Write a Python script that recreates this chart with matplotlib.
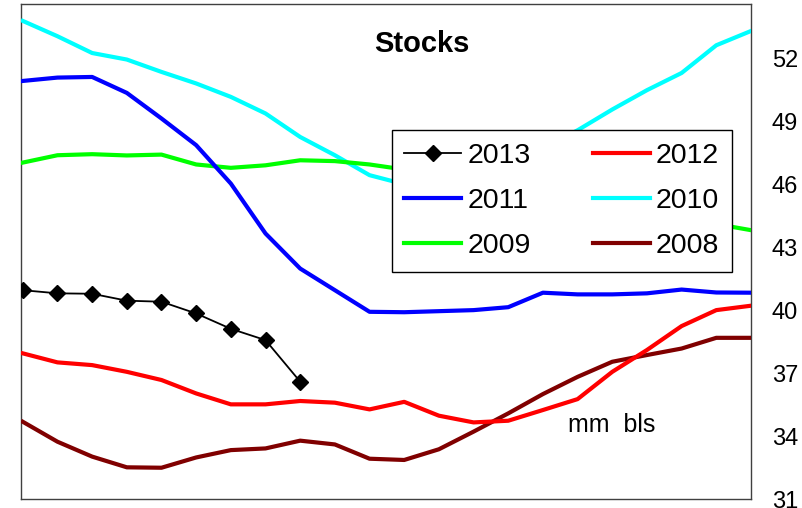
#!/usr/bin/env python3
"""Stocks chart: yearly curves, mm bls on right axis."""

import matplotlib
matplotlib.use("Agg")
import matplotlib.pyplot as plt

weeks = list(range(22))

stocks_2013 = [40.95, 40.80, 40.78, 40.45, 40.40, 39.84, 39.11, 38.57, 36.59]
stocks_2012 = [37.94, 37.51, 37.38, 37.06, 36.67, 36.03, 35.51, 35.51, 35.67, 35.59, 35.27,
               35.63, 34.97, 34.65, 34.73, 35.24, 35.76, 37.06, 38.10, 39.24, 40.00, 40.21]
stocks_2011 = [50.92, 51.08, 51.11, 50.35, 49.13, 47.86, 46.03, 43.65, 41.98, 40.95, 39.92,
               39.90, 39.95, 40.00, 40.14, 40.83, 40.75, 40.75, 40.80, 40.98, 40.84, 40.83]
stocks_2010 = [53.78, 53.05, 52.25, 51.94, 51.35, 50.80, 50.16, 49.37, 48.25, 47.38, 46.43,
               46.00, 45.80, 46.20, 46.90, 47.70, 48.57, 49.56, 50.48, 51.30, 52.62, 53.30]
stocks_2009 = [47.03, 47.38, 47.43, 47.37, 47.41, 46.94, 46.78, 46.90, 47.14, 47.10, 46.94,
               46.70, 46.50, 46.30, 46.00, 45.70, 45.40, 45.10, 44.80, 44.50, 44.10, 43.81]
stocks_2008 = [34.68, 33.73, 33.02, 32.51, 32.49, 32.98, 33.33, 33.41, 33.78, 33.60, 32.92,
               32.86, 33.37, 34.21, 35.08, 36.00, 36.82, 37.54, 37.86, 38.17, 38.68, 38.68]

y_ticks = [31, 34, 37, 40, 43, 46, 49, 52]

plt.rcParams["font.family"] = ["Liberation Sans", "DejaVu Sans"]

fig = plt.figure(figsize=(8.03, 5.08), dpi=100)
ax = fig.add_axes([0.0258, 0.0177, 0.9094, 0.975])

h13, = ax.plot(weeks[:len(stocks_2013)], stocks_2013, color="black", lw=1.3,
               marker="D", markersize=8.5, label="2013", zorder=6)
h12, = ax.plot(weeks, stocks_2012, color="#ff0000", lw=3, label="2012", zorder=5)
h11, = ax.plot(weeks, stocks_2011, color="#0000ff", lw=3, label="2011", zorder=4)
h10, = ax.plot(weeks, stocks_2010, color="#00ffff", lw=3, label="2010", zorder=3)
h09, = ax.plot(weeks, stocks_2009, color="#00ff00", lw=3, label="2009", zorder=3)
h08, = ax.plot(weeks, stocks_2008, color="#800000", lw=3, label="2008", zorder=4)

ax.set_xlim(-0.06, 21.0)
ax.set_ylim(31, 54.6)
ax.set_xticks([])
ax.yaxis.tick_right()
ax.set_yticks(y_ticks)
ax.tick_params(axis="y", length=0, pad=15, labelsize=17)
for sp in ax.spines.values():
    sp.set_color("#404040")
    sp.set_linewidth(1)

ax.text(0.549, 0.918, "Stocks", transform=ax.transAxes, ha="center", va="center",
        fontsize=21, fontweight="bold")
ax.text(0.809, 0.149, "mm  bls", transform=ax.transAxes, ha="center", va="center",
        fontsize=18)

leg = ax.legend(handles=[h13, h11, h09, h12, h10, h08], ncol=2, fontsize=20.5,
                loc="upper left", bbox_to_anchor=(0.508, 0.745), borderaxespad=0,
                frameon=True, fancybox=False, framealpha=1, edgecolor="black",
                handlelength=2.0, handletextpad=0.2, columnspacing=2.2,
                borderpad=0.45, labelspacing=0.67)
leg.get_frame().set_linewidth(1)
leg.set_zorder(10)

fig.savefig("out.png", dpi=100)
plt.close(fig)
